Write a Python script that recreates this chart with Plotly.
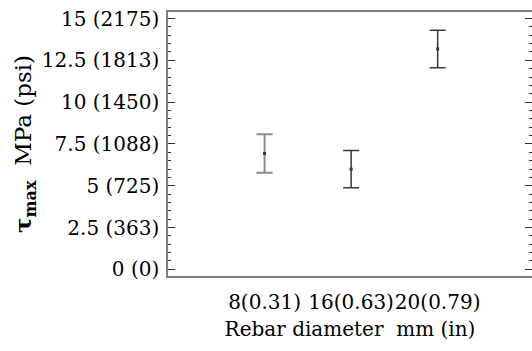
import plotly.graph_objects as go

categories = ["8(0.31)", "16(0.63)", "20(0.79)"]
tau_mean = [6.93, 5.99, 13.18]
tau_err = [1.15, 1.11, 1.12]
bar_colors = ["#8c8c8c", "#3a3a3a", "#3a3a3a"]
ytick_vals = [0, 2.5, 5, 7.5, 10, 12.5, 15]
ytick_text = ["0 (0)", "2.5 (363)", "5 (725)", "7.5 (1088)", "10 (1450)", "12.5 (1813)", "15 (2175)"]

FONT = "DejaVu Serif"

fig = go.Figure()
for i, c in enumerate(categories):
    fig.add_trace(go.Scatter(
        x=[i], y=[tau_mean[i]],
        mode="markers",
        marker=dict(symbol="square", size=3, color="#333333"),
        error_y=dict(type="data", array=[tau_err[i]], visible=True,
                     color=bar_colors[i], thickness=2 if i == 0 else 1.5, width=8),
        showlegend=False,
    ))

fig.update_layout(
    width=532, height=351,
    margin=dict(l=168, r=0, t=12, b=75),
    paper_bgcolor="white", plot_bgcolor="white",
    font=dict(family=FONT, size=20, color="black"),
    xaxis=dict(
        range=[-1.116, 3.09],
        tickvals=[0, 1, 2], ticktext=categories, tickangle=0,
        ticks="", showline=True, linecolor="#808080", linewidth=1.5, mirror=True,
        showgrid=False, zeroline=False, automargin=False,
        ticklabelstandoff=7,
        title=dict(text="Rebar diameter  mm (in)", standoff=9, font=dict(family=FONT, size=20)),
        tickfont=dict(family=FONT, size=20),
    ),
    yaxis=dict(
        range=[-0.40, 15.39],
        tickvals=ytick_vals, ticktext=ytick_text,
        ticks="inside", ticklen=7, tickcolor="#333333", tickwidth=1,
        minor=dict(dtick=0.5, tick0=0, ticks="inside", ticklen=3, tickcolor="#333333", tickwidth=1),
        showline=True, linecolor="#808080", linewidth=1.5, mirror="allticks",
        showgrid=False, zeroline=False, automargin=False,
        ticklabelstandoff=3,
        tickfont=dict(family=FONT, size=20),
        title=dict(text="<b>τ<sub>max</sub></b>  MPa (psi)", standoff=4, font=dict(family=FONT, size=23)),
    ),
)

fig.write_html("out.html")
